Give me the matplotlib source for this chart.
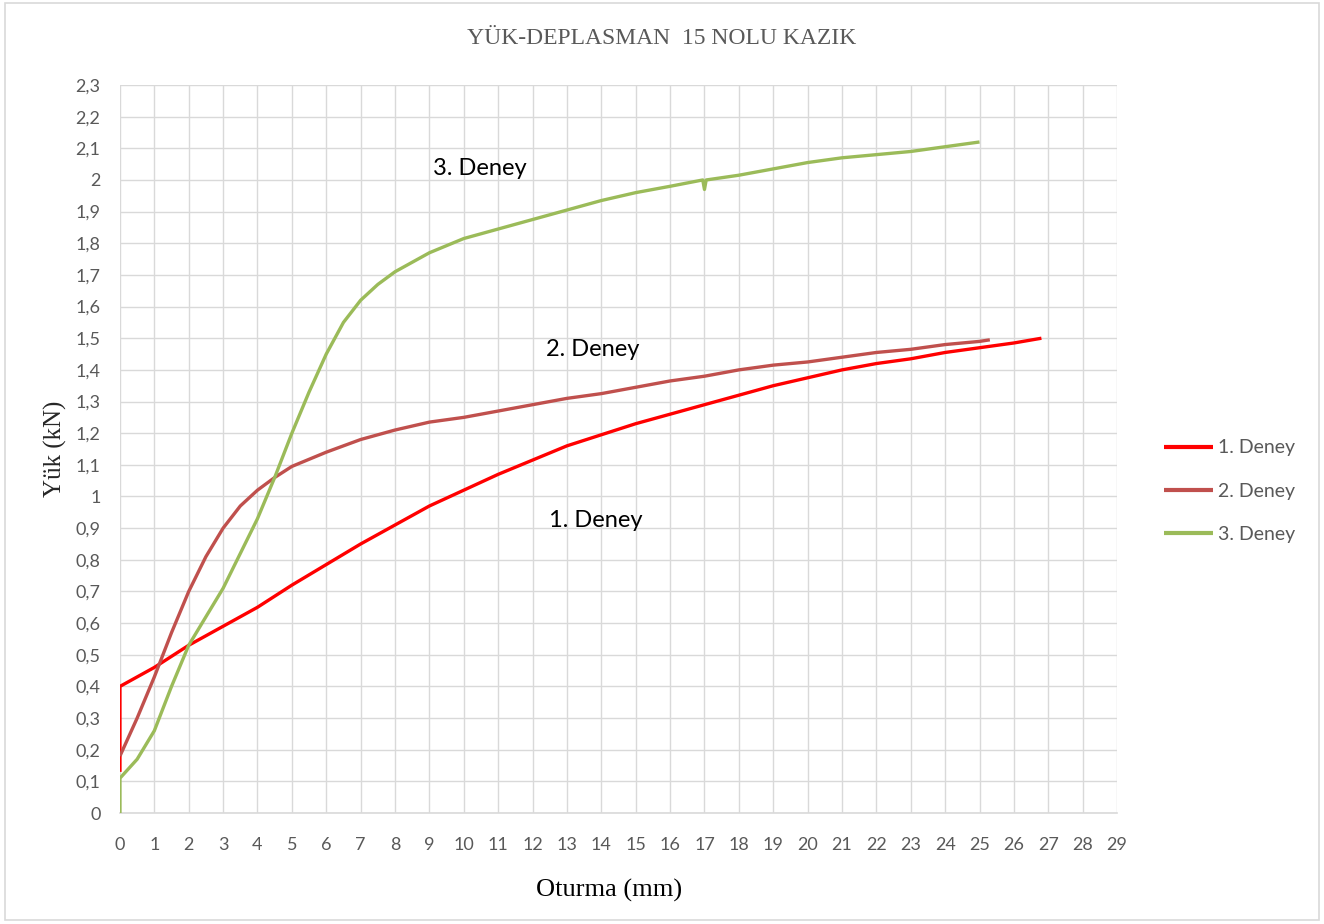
import matplotlib
matplotlib.use("Agg")
import matplotlib.pyplot as plt
from matplotlib.patches import Rectangle
from matplotlib.ticker import FuncFormatter, MultipleLocator

# Oturma (mm) / Yük (kN) readings for each test
deney1_x = [0, 0, 1, 2, 3, 4, 5, 6, 7, 8, 9, 10, 11, 12, 13, 14, 15, 16, 17,
            18, 19, 20, 21, 22, 23, 24, 25, 26, 26.8]
deney1_y = [0.13, 0.40, 0.46, 0.53, 0.59, 0.65, 0.72, 0.785, 0.85, 0.91, 0.97,
            1.02, 1.07, 1.115, 1.16, 1.195, 1.23, 1.26, 1.29, 1.32, 1.35, 1.375,
            1.40, 1.42, 1.435, 1.455, 1.47, 1.485, 1.50]

deney2_x = [0, 0.5, 1, 1.5, 2, 2.5, 3, 3.5, 4, 4.5, 5, 6, 7, 8, 9, 10, 11, 12,
            13, 14, 15, 16, 17, 18, 19, 20, 21, 22, 23, 24, 25, 25.3]
deney2_y = [0.18, 0.30, 0.43, 0.57, 0.70, 0.81, 0.90, 0.97, 1.02, 1.06, 1.095,
            1.14, 1.18, 1.21, 1.235, 1.25, 1.27, 1.29, 1.31, 1.325, 1.345, 1.365,
            1.38, 1.40, 1.415, 1.425, 1.44, 1.455, 1.465, 1.48, 1.49, 1.495]

deney3_x = [0, 0, 0.5, 1, 1.5, 2, 2.5, 3, 3.5, 4, 4.5, 5, 5.5, 6, 6.5, 7, 7.5,
            8, 9, 10, 11, 12, 13, 14, 15, 16, 16.95, 17.0, 17.05, 18, 19, 20,
            21, 22, 23, 24, 25]
deney3_y = [0.0, 0.11, 0.17, 0.26, 0.40, 0.53, 0.62, 0.71, 0.82, 0.93, 1.06,
            1.20, 1.33, 1.45, 1.55, 1.62, 1.67, 1.71, 1.77, 1.815, 1.845, 1.875,
            1.905, 1.935, 1.96, 1.98, 2.0, 1.97, 2.0, 2.015, 2.035, 2.055, 2.07,
            2.08, 2.09, 2.105, 2.12]

series_names = ["1. Deney", "2. Deney", "3. Deney"]
series_colors = ["#FF0000", "#C0504D", "#9BBB59"]

title_text = "YÜK-DEPLASMAN  15 NOLU KAZIK"
x_label = "Oturma (mm)"
y_label = "Yük (kN)"

sans = ["Lato", "DejaVu Sans"]
serif = ["Liberation Serif", "DejaVu Serif"]
tick_grey = "#595959"

fig = plt.figure(figsize=(13.24, 9.24), dpi=100)
fig.patches.append(Rectangle((0.004, 0.004), 0.992, 0.993, transform=fig.transFigure,
                             fill=False, edgecolor="#D9D9D9", linewidth=1.2))
ax = fig.add_axes([0.0906, 0.1201, 0.7531, 0.7879])

for xs, ys, c, n in zip([deney1_x, deney2_x, deney3_x],
                        [deney1_y, deney2_y, deney3_y],
                        series_colors, series_names):
    ax.plot(xs, ys, color=c, linewidth=2.4, label=n, solid_capstyle="butt",
            solid_joinstyle="round", zorder=3)

ax.set_xlim(0, 29)
ax.set_ylim(0, 2.3)
ax.xaxis.set_major_locator(MultipleLocator(1))
ax.yaxis.set_major_locator(MultipleLocator(0.1))
ax.yaxis.set_major_formatter(FuncFormatter(
    lambda v, p: ("%.1f" % v).rstrip("0").rstrip(".").replace(".", ",") if abs(v) > 1e-9 else "0"))
ax.grid(True, color="#D9D9D9", linewidth=1.0)
ax.set_axisbelow(True)
for s in ["top", "right", "left"]:
    ax.spines[s].set_visible(False)
ax.spines["bottom"].set_color("#D9D9D9")
ax.spines["bottom"].set_linewidth(1.2)
ax.tick_params(length=0, labelcolor=tick_grey, labelsize=13)
ax.tick_params(axis="x", pad=17)
ax.tick_params(axis="y", pad=14)
for lbl in ax.get_xticklabels() + ax.get_yticklabels():
    lbl.set_family(sans)

ax.set_xlabel(x_label, family=serif, fontsize=19, color="black")
ax.xaxis.set_label_coords(0.491, -0.091)
ax.set_ylabel(y_label, family=serif, fontsize=18, color="#262626", labelpad=6)
fig.text(0.5, 0.958, title_text, family=serif, fontsize=17, color="#595959",
         ha="center", va="center")

ann_font = dict(family=sans, fontsize=17, color="black", ha="center", va="center")
ax.text(10.47, 2.035, "3. Deney", **ann_font)
ax.text(13.75, 1.465, "2. Deney", **ann_font)
ax.text(13.85, 0.925, "1. Deney", **ann_font)

leg = ax.legend(loc="center left", bbox_to_anchor=(1.03, 0.442), frameon=False,
                handlelength=2.5, handletextpad=0.25, labelspacing=1.35,
                prop={"family": sans, "size": 14})
for t in leg.get_texts():
    t.set_color(tick_grey)
for h in leg.get_lines():
    h.set_linewidth(3)

fig.savefig("out.png", dpi=100)
